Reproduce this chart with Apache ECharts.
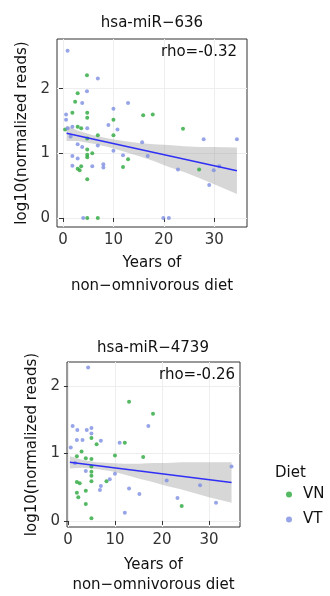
<!DOCTYPE html>
<html>
<head>
<meta charset="utf-8">
<script src="https://cdn.jsdelivr.net/npm/echarts@6/dist/echarts.min.js"></script>
<style>
  html, body { margin: 0; padding: 0; background: #fff; }
  #main { width: 330px; height: 596px; }
</style>
</head>
<body>
<div id="main"></div>
<script>
// tick labels
let xTicks = [0, 10, 20, 30];
let yTicks = [0, 1, 2];

// hsa-miR-636
let vnX1 = [4.75, 2.9, 2.4, 1.85, 4.8, 4.8, 10, 15.9, 17.8, 0.4, 2.9, 3.6, 6.9, 4.8, 10, 4.8, 4.8, 5.8, 4.8, 3.6, 2.9, 3.3, 11.9, 12.9, 4.8, 4.8, 6.9, 23.8, 27];
let vnY1 = [2.21, 1.93, 1.80, 1.63, 1.63, 1.55, 1.52, 1.59, 1.60, 1.37, 1.41, 1.39, 1.28, 1.23, 1.28, 1.06, 0.98, 1.00, 0.94, 0.80, 0.76, 0.74, 0.79, 0.91, 0.60, 0, 0, 1.38, 0.75];
let vtX1 = [0.9, 6.9, 4.75, 3.8, 0.6, 0.6, 10, 12.9, 9, 10.8, 0.9, 1.85, 4.8, 1.5, 2.9, 3.8, 6.9, 10, 1.85, 2.9, 11.9, 1.85, 5.8, 8, 8, 15.7, 16.8, 27.9, 34.5, 22.8, 29.9, 31, 29, 4, 19.9, 21];
let vtY1 = [2.59, 2.16, 1.96, 1.78, 1.60, 1.52, 1.69, 1.78, 1.44, 1.37, 1.39, 1.41, 1.39, 1.26, 1.14, 1.10, 1.12, 1.04, 0.96, 0.92, 0.97, 0.81, 0.80, 0.83, 0.78, 1.17, 0.96, 1.22, 1.22, 0.75, 0.74, 0.80, 0.51, 0, 0, 0];
let fitX1 = [0.7, 34.5];
let fitY1 = [1.31, 0.73];
let bandX1 = [0.7, 3, 6, 9, 12, 15, 18, 21, 24, 27, 30, 34.5];
let bandLo1 = [1.19, 1.19, 1.15, 1.10, 1.03, 0.96, 0.88, 0.79, 0.71, 0.62, 0.52, 0.37];
let bandHi1 = [1.43, 1.35, 1.28, 1.23, 1.19, 1.16, 1.14, 1.13, 1.11, 1.10, 1.10, 1.09];

// hsa-miR-4739
let vnX2 = [13, 18.1, 5.0, 6.1, 12.1, 2.9, 1.9, 10, 16, 3.8, 5.0, 5.0, 5.0, 5.0, 1.9, 2.5, 5.0, 8.2, 1.9, 3.8, 2.2, 3.8, 5.0, 24.2];
let vnY2 = [1.77, 1.59, 1.23, 1.14, 1.16, 1.03, 0.96, 0.97, 0.95, 0.93, 0.92, 0.81, 0.73, 0.67, 0.58, 0.56, 0.59, 0.59, 0.42, 0.45, 0.35, 0.25, 0.04, 0.22];
let vtX2 = [4.3, 17.1, 1.0, 2.0, 4.0, 5.0, 5.0, 7.0, 1.9, 3.1, 11, 0.6, 1.5, 3.8, 10, 8.9, 7.0, 6.8, 13, 15.2, 12.1, 21, 23.3, 28.1, 31.5, 34.8];
let vtY2 = [2.28, 1.41, 1.41, 1.35, 1.35, 1.38, 1.30, 1.19, 1.20, 1.20, 1.16, 1.09, 0.86, 0.74, 0.70, 0.62, 0.52, 0.46, 0.48, 0.40, 0.12, 0.60, 0.34, 0.53, 0.27, 0.81];
let fitX2 = [0.4, 34.8];
let fitY2 = [0.87, 0.57];
let bandX2 = [0.4, 3, 6, 9, 12, 15, 18, 21, 24, 27, 30, 34.8];
let bandLo2 = [0.78, 0.79, 0.77, 0.74, 0.69, 0.63, 0.58, 0.52, 0.47, 0.41, 0.35, 0.27];
let bandHi2 = [0.96, 0.91, 0.87, 0.86, 0.85, 0.85, 0.86, 0.86, 0.87, 0.87, 0.87, 0.87];

const FONT = 'DejaVu Sans';
const GREEN = '#2aa83c';
const BLUE = '#7d8ee2';

function zip(xs, ys) {
    return xs.map((x, i) => [x, ys[i]]);
}

function xAxisFor(idx, min, max, lineHeight, gap) {
    return {
        type: 'value', gridIndex: idx, min: min, max: max,
        name: 'Years of\nnon\u2212omnivorous diet',
        nameLocation: 'middle', nameGap: gap,
        nameTextStyle: { fontFamily: FONT, fontSize: 15, color: '#111', lineHeight: lineHeight },
        axisLine: { show: false },
        axisTick: { show: true, length: 4, customValues: xTicks, lineStyle: { color: '#333' } },
        axisLabel: { customValues: xTicks, fontFamily: FONT, fontSize: 15, color: '#333', margin: 6 },
        splitLine: { show: true, lineStyle: { color: '#eeeeee', width: 1 } }
    };
}

function yAxisFor(idx, min, max) {
    return {
        type: 'value', gridIndex: idx, min: min, max: max,
        name: 'log10(normalized reads)',
        nameLocation: 'middle', nameGap: 25, nameRotate: 90,
        nameTextStyle: { fontFamily: FONT, fontSize: 15, color: '#111' },
        axisLine: { show: false },
        axisTick: { show: true, length: 4, customValues: yTicks, lineStyle: { color: '#333' } },
        axisLabel: { customValues: yTicks, fontFamily: FONT, fontSize: 15, color: '#333', margin: 7 },
        splitLine: { show: true, lineStyle: { color: '#eeeeee', width: 1 } }
    };
}

function panelSeries(idx, vnX, vnY, vtX, vtY, bandX, bandLo, bandHi, fitX, fitY) {
    return [
        { name: 'VN', type: 'scatter', xAxisIndex: idx, yAxisIndex: idx, symbolSize: 4,
          itemStyle: { color: GREEN }, data: zip(vnX, vnY) },
        { name: 'VT', type: 'scatter', xAxisIndex: idx, yAxisIndex: idx, symbolSize: 4,
          itemStyle: { color: BLUE }, data: zip(vtX, vtY) },
        // confidence band as one polygon through the band edges
        { type: 'custom', xAxisIndex: idx, yAxisIndex: idx, silent: true,
          data: bandX.map((x, i) => [x, bandLo[i], bandHi[i]]),
          encode: { x: 0, y: [1, 2] },
          renderItem: function (params, api) {
              if (params.dataIndex !== 0) return;
              let pts = [];
              for (let i = 0; i < bandX.length; i++) pts.push(api.coord([bandX[i], bandHi[i]]));
              for (let i = bandX.length - 1; i >= 0; i--) pts.push(api.coord([bandX[i], bandLo[i]]));
              return { type: 'polygon', shape: { points: pts },
                       style: { fill: 'rgba(150,150,150,0.38)' } };
          } },
        { type: 'line', xAxisIndex: idx, yAxisIndex: idx, symbol: 'none',
          lineStyle: { color: '#2f2ff5', width: 1.5 }, data: zip(fitX, fitY) }
    ];
}

let option = {
    animation: false,
    backgroundColor: '#fff',
    title: [
        { text: 'hsa-miR\u2212636', left: 152, top: 16, textAlign: 'center', padding: 0,
          textStyle: { fontFamily: FONT, fontSize: 15, fontWeight: 'normal', color: '#111' } },
        { text: 'rho=-0.32', right: 93, top: 45, padding: 0,
          textStyle: { fontFamily: FONT, fontSize: 15, fontWeight: 'normal', color: '#111' } },
        { text: 'hsa-miR\u22124739', left: 153, top: 341, textAlign: 'center', padding: 0,
          textStyle: { fontFamily: FONT, fontSize: 15, fontWeight: 'normal', color: '#111' } },
        { text: 'rho=-0.26', right: 95, top: 368, padding: 0,
          textStyle: { fontFamily: FONT, fontSize: 15, fontWeight: 'normal', color: '#111' } },
        { text: 'Diet', left: 275, top: 466, padding: 0,
          textStyle: { fontFamily: FONT, fontSize: 15, fontWeight: 'normal', color: '#111' } }
    ],
    legend: {
        orient: 'vertical', left: 286, top: 487, padding: 0,
        itemWidth: 6, itemHeight: 6, itemGap: 10,
        data: [{ name: 'VN', icon: 'circle' }, { name: 'VT', icon: 'circle' }],
        textStyle: { fontFamily: FONT, fontSize: 15, color: '#111', padding: [0, 0, 0, 6] }
    },
    grid: [
        { left: 57, top: 39, width: 190, height: 188, show: true, borderColor: '#333', borderWidth: 1, backgroundColor: '#fff' },
        { left: 67, top: 362, width: 173, height: 171, show: true, borderColor: '#333', borderWidth: 1, backgroundColor: '#fff' }
    ],
    xAxis: [xAxisFor(0, -1.2, 36.5, 23, 25), xAxisFor(1, -0.2, 36.6, 20, 28)],
    yAxis: [yAxisFor(0, -0.14, 2.77), yAxisFor(1, -0.09, 2.36)],
    series: [].concat(
        panelSeries(0, vnX1, vnY1, vtX1, vtY1, bandX1, bandLo1, bandHi1, fitX1, fitY1),
        panelSeries(1, vnX2, vnY2, vtX2, vtY2, bandX2, bandLo2, bandHi2, fitX2, fitY2)
    )
};

let myChart = echarts.init(document.getElementById('main'));
myChart.setOption(option);
</script>
</body>
</html>
